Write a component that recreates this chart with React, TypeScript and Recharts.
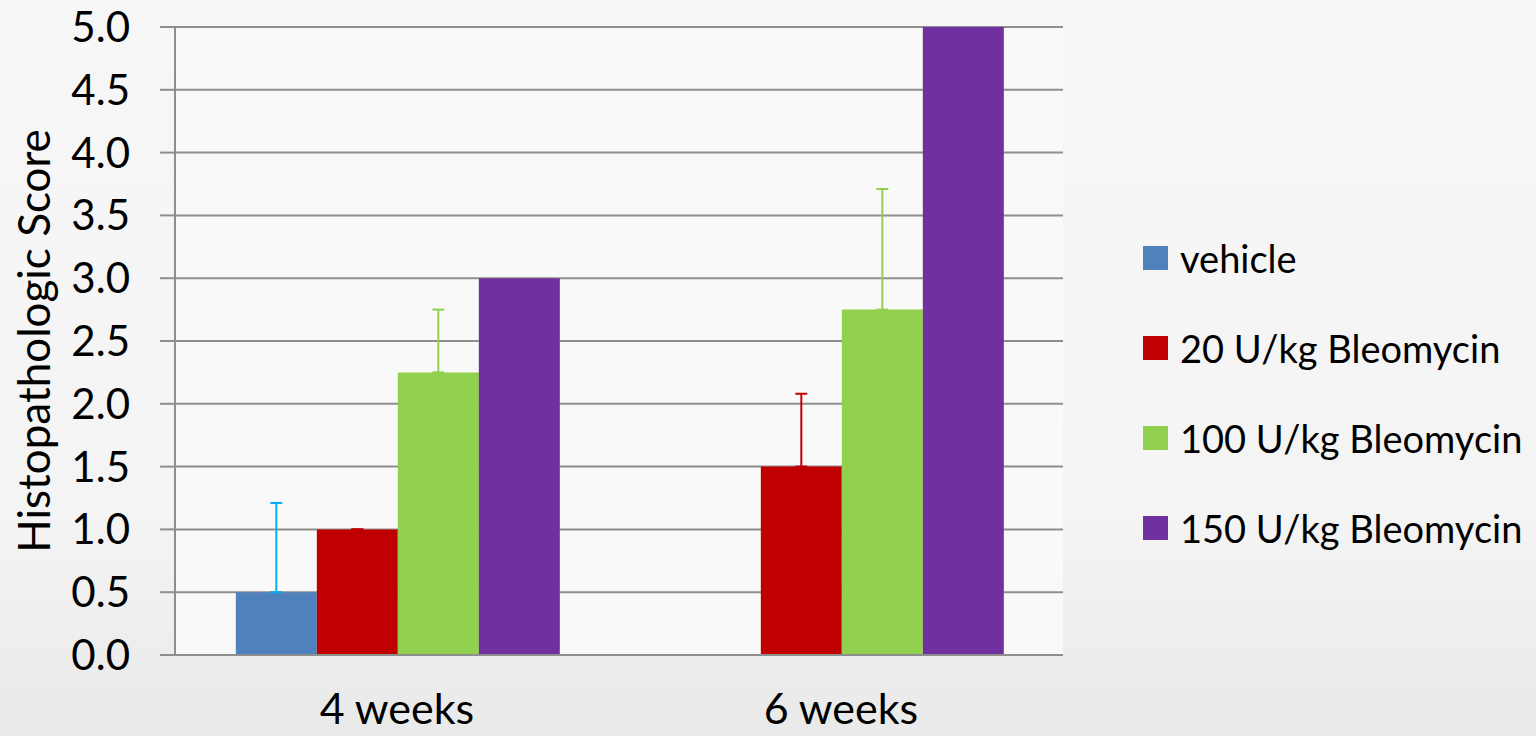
import React from "react";
import {
  BarChart,
  Bar,
  XAxis,
  YAxis,
  CartesianGrid,
  Legend,
  ErrorBar,
} from "recharts";

const categories = ["4 weeks", "6 weeks"];
const seriesNames = [
  "vehicle",
  "20 U/kg Bleomycin",
  "100 U/kg Bleomycin",
  "150 U/kg Bleomycin",
];
const vehicle = [0.5, 0];
const bleo20 = [1.0, 1.5];
const bleo100 = [2.25, 2.75];
const bleo150 = [3.0, 5.0];
const vehicleErr = [0.71, 0];
const bleo20Err = [0, 0.58];
const bleo100Err = [0.5, 0.96];
const yTicks = [0, 0.5, 1, 1.5, 2, 2.5, 3, 3.5, 4, 4.5, 5];

const barColors = ["#4f81bd", "#c00000", "#92d050", "#7030a0"];
const errColors = ["#00b0f0", "#c00000", "#92d050"];
const gridColor = "#8e8e8e";
const font = "Lato, 'Open Sans', sans-serif";

const chartData = categories.map((name, i) => ({
  name,
  vehicle: vehicle[i],
  bleo20: bleo20[i],
  bleo100: bleo100[i],
  bleo150: bleo150[i],
  vehicleErr: [0, vehicleErr[i]],
  bleo20Err: [0, bleo20Err[i]],
  bleo100Err: [0, bleo100Err[i]],
}));

function LegendBox() {
  return (
    <div style={{ fontFamily: font, fontSize: 38, color: "#000" }}>
      {seriesNames.map((s, i) => (
        <div
          key={s}
          style={{ display: "flex", alignItems: "center", height: 90 }}
        >
          <span
            style={{
              display: "inline-block",
              width: 25,
              height: 24,
              background: barColors[i],
              marginRight: 12,
            }}
          />
          <span>{s}</span>
        </div>
      ))}
    </div>
  );
}

export default function App() {
  return (
    <div
      style={{
        position: "absolute",
        left: 0,
        top: 0,
        width: 1536,
        height: 736,
        background:
          "linear-gradient(180deg, #f7f7f7 0%, #f4f4f4 70%, #e9e9e9 100%)",
        overflow: "hidden",
      }}
    >
      <BarChart
        width={1536}
        height={736}
        data={chartData}
        margin={{ top: 27, right: 473, bottom: 0, left: 0 }}
        barCategoryGap="13.7%"
        barGap={0}
      >
        <CartesianGrid
          vertical={false}
          stroke={gridColor}
          strokeWidth={2}
          fill="#f9f9f9"
        />
        <XAxis
          dataKey="name"
          height={81}
          axisLine={{ stroke: gridColor, strokeWidth: 2 }}
          tickLine={false}
          tickSize={0}
          tickMargin={38}
          tick={{ fill: "#000", fontSize: 43, fontFamily: font }}
        />
        <YAxis
          width={175}
          domain={[0, 5]}
          ticks={yTicks}
          interval={0}
          tickFormatter={(v: number) => v.toFixed(1)}
          axisLine={{ stroke: gridColor, strokeWidth: 2 }}
          tickLine={{ stroke: gridColor, strokeWidth: 2 }}
          tickSize={15}
          tickMargin={30}
          tick={{ fill: "#000", fontSize: 42, fontFamily: font }}
          label={{
            value: "Histopathologic Score",
            angle: -90,
            position: "insideLeft",
            offset: 34,
            style: {
              fill: "#000",
              fontSize: 44,
              fontFamily: font,
              textAnchor: "middle",
            },
          }}
        />
        <Legend
          layout="vertical"
          align="center"
          verticalAlign="middle"
          content={<LegendBox />}
          wrapperStyle={{ left: 1143, top: 213, width: 393 }}
        />
        <Bar
          dataKey="vehicle"
          name={seriesNames[0]}
          fill={barColors[0]}
          isAnimationActive={false}
        >
          <ErrorBar
            dataKey="vehicleErr"
            direction="y"
            width={6}
            stroke={errColors[0]}
            strokeWidth={2}
          />
        </Bar>
        <Bar
          dataKey="bleo20"
          name={seriesNames[1]}
          fill={barColors[1]}
          isAnimationActive={false}
        >
          <ErrorBar
            dataKey="bleo20Err"
            direction="y"
            width={6}
            stroke={errColors[1]}
            strokeWidth={2}
          />
        </Bar>
        <Bar
          dataKey="bleo100"
          name={seriesNames[2]}
          fill={barColors[2]}
          isAnimationActive={false}
        >
          <ErrorBar
            dataKey="bleo100Err"
            direction="y"
            width={6}
            stroke={errColors[2]}
            strokeWidth={2}
          />
        </Bar>
        <Bar
          dataKey="bleo150"
          name={seriesNames[3]}
          fill={barColors[3]}
          isAnimationActive={false}
        />
      </BarChart>
    </div>
  );
}
